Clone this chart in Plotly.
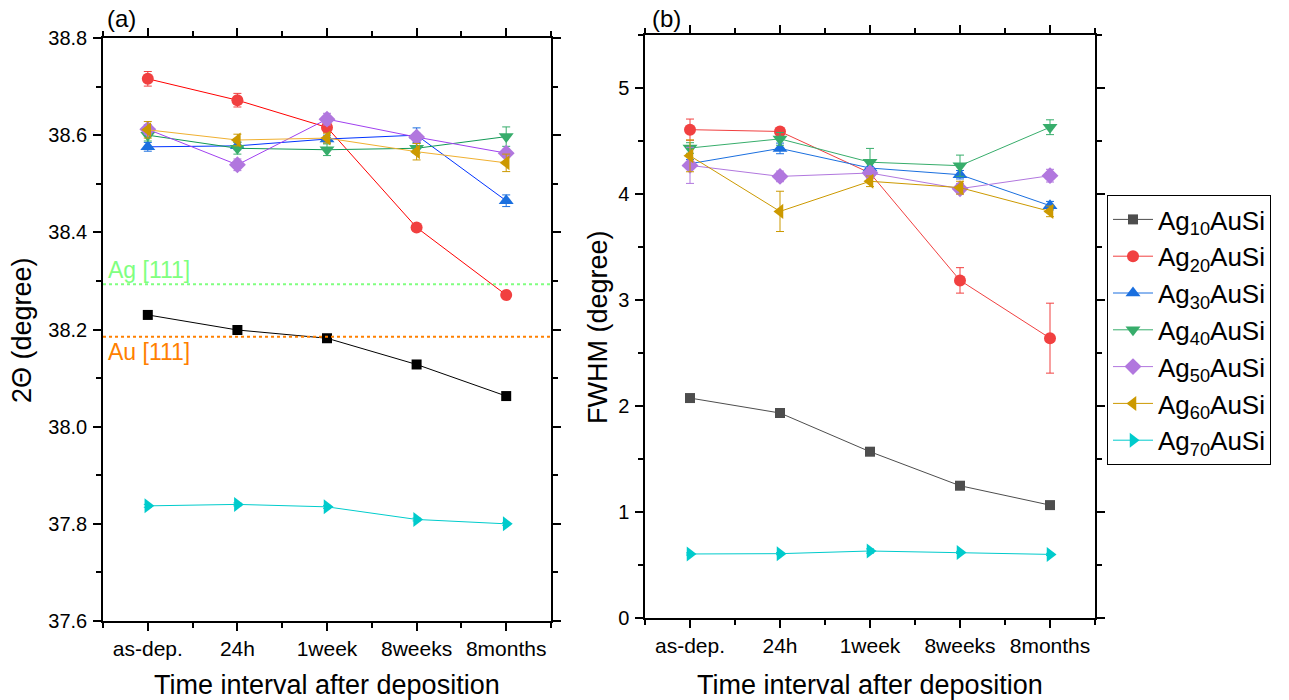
import plotly.graph_objects as go

categories = ["as-dep.", "24h", "1week", "8weeks", "8months"]
series_names = ["Ag<sub>10</sub>AuSi", "Ag<sub>20</sub>AuSi", "Ag<sub>30</sub>AuSi", "Ag<sub>40</sub>AuSi",
                "Ag<sub>50</sub>AuSi", "Ag<sub>60</sub>AuSi", "Ag<sub>70</sub>AuSi"]

# Panel (a): 2Theta (degree)
theta_ag10 = [38.230, 38.199, 38.182, 38.128, 38.063]
theta_ag20 = [38.716, 38.672, 38.616, 38.410, 38.271]
theta_ag30 = [38.576, 38.578, 38.592, 38.600, 38.465]
theta_ag40 = [38.600, 38.573, 38.570, 38.573, 38.597]
theta_ag50 = [38.612, 38.539, 38.633, 38.596, 38.563]
theta_ag60 = [38.611, 38.590, 38.594, 38.566, 38.543]
theta_ag70 = [37.837, 37.840, 37.835, 37.809, 37.800]

theta_err_ag10 = [0.003, 0.003, 0.003, 0.003, 0.003]
theta_err_ag20 = [0.015, 0.014, 0.010, 0.006, 0.006]
theta_err_ag30 = [0.009, 0.008, 0.008, 0.015, 0.012]
theta_err_ag40 = [0.012, 0.012, 0.012, 0.010, 0.020]
theta_err_ag50 = [0.010, 0.012, 0.012, 0.008, 0.008]
theta_err_ag60 = [0.017, 0.012, 0.010, 0.017, 0.018]
theta_err_ag70 = [0.003, 0.003, 0.003, 0.003, 0.003]

ag111 = 38.293
au111 = 38.185

# Panel (b): FWHM (degree)
fwhm_ag10 = [2.075, 1.934, 1.569, 1.248, 1.065]
fwhm_ag20 = [4.607, 4.590, 4.198, 3.185, 2.640]
fwhm_ag30 = [4.286, 4.430, 4.245, 4.182, 3.890]
fwhm_ag40 = [4.434, 4.520, 4.300, 4.267, 4.630]
fwhm_ag50 = [4.270, 4.166, 4.198, 4.050, 4.173]
fwhm_ag60 = [4.360, 3.836, 4.120, 4.060, 3.836]
fwhm_ag70 = [0.604, 0.607, 0.632, 0.619, 0.600]

fwhm_err_ag10 = [0.01, 0.01, 0.01, 0.01, 0.01]
fwhm_err_ag20 = [0.10, 0.03, 0.04, 0.12, 0.33]
fwhm_err_ag30 = [0.04, 0.05, 0.05, 0.04, 0.04]
fwhm_err_ag40 = [0.05, 0.06, 0.13, 0.10, 0.07]
fwhm_err_ag50 = [0.17, 0.05, 0.05, 0.05, 0.06]
fwhm_err_ag60 = [0.15, 0.19, 0.05, 0.06, 0.05]
fwhm_err_ag70 = [0.01, 0.01, 0.02, 0.01, 0.01]

colors = ["#4d4d4d", "#F14040", "#1A6FDF", "#37AD6B", "#B177DE", "#CC9900", "#00CBCC"]
colors_a = ["#000000", "#F14040", "#1A6FDF", "#37AD6B", "#B177DE", "#CC9900", "#00CBCC"]
line_a = ["#000000", "#FF0000", "#0033FF", "#119955", "#A040F0", "#F0B030", "#00CCCC"]
symbols = ["square", "circle", "triangle-up", "triangle-down", "diamond", "triangle-left", "triangle-right"]
sizes = [10, 12, 13, 13, 13, 13, 13]

theta_all = [theta_ag10, theta_ag20, theta_ag30, theta_ag40, theta_ag50, theta_ag60, theta_ag70]
theta_err = [theta_err_ag10, theta_err_ag20, theta_err_ag30, theta_err_ag40, theta_err_ag50, theta_err_ag60, theta_err_ag70]
fwhm_all = [fwhm_ag10, fwhm_ag20, fwhm_ag30, fwhm_ag40, fwhm_ag50, fwhm_ag60, fwhm_ag70]
fwhm_err = [fwhm_err_ag10, fwhm_err_ag20, fwhm_err_ag30, fwhm_err_ag40, fwhm_err_ag50, fwhm_err_ag60, fwhm_err_ag70]

xpos = list(range(len(categories)))

fig = go.Figure()
FONT = "Liberation Sans, Arial, sans-serif"

for i in range(7):
    fig.add_trace(go.Scatter(
        x=xpos, y=theta_all[i], mode="lines+markers", name=series_names[i],
        xaxis="x", yaxis="y", showlegend=False,
        line=dict(color=line_a[i], width=1),
        marker=dict(symbol=symbols[i], size=sizes[i], color=colors_a[i]),
        error_y=dict(type="data", array=theta_err[i], color=colors_a[i], thickness=1, width=4),
    ))

for i in range(7):
    fig.add_trace(go.Scatter(
        x=xpos, y=fwhm_all[i], mode="lines+markers", name=series_names[i],
        xaxis="x2", yaxis="y2", showlegend=True,
        line=dict(color=colors[i], width=1),
        marker=dict(symbol=symbols[i], size=sizes[i], color=colors[i]),
        error_y=dict(type="data", array=fwhm_err[i], color=colors[i], thickness=1, width=4),
    ))

W, H = 1289, 700
def px_x(p): return p / W
def px_y(p): return 1 - p / H

axis_common = dict(
    showline=True, linecolor="black", linewidth=1.5, mirror="allticks",
    ticks="outside", ticklen=8, tickwidth=1.5, tickcolor="black",
    showgrid=False, zeroline=False,
)
minor_common = dict(ticks="outside", ticklen=5, tickwidth=1.5, tickcolor="black")
xtickfont = dict(family=FONT, size=21, color="black")
ytickfont = dict(family=FONT, size=20, color="black")

fig.update_layout(
    width=W, height=H,
    margin=dict(l=0, r=0, t=0, b=0, autoexpand=False),
    plot_bgcolor="white", paper_bgcolor="white",
    font=dict(family=FONT, color="black"),
    xaxis=dict(domain=[px_x(103), px_x(551)], range=[-0.5, 4.5], anchor="y",
               tickvals=xpos, ticktext=categories, tickfont=xtickfont, ticklabelstandoff=0,
               minor=dict(dtick=0.5, tick0=0.5, **minor_common),
               **axis_common),
    yaxis=dict(domain=[px_y(621), px_y(38)], range=[37.6, 38.8], anchor="x",
               dtick=0.2, tickformat=".1f", tickfont=ytickfont, ticklabelstandoff=2,
               minor=dict(dtick=0.1, **minor_common),
               **axis_common),
    xaxis2=dict(domain=[px_x(645), px_x(1095)], range=[-0.5, 4.5], anchor="y2",
                tickvals=xpos, ticktext=categories, tickfont=xtickfont, ticklabelstandoff=0,
                minor=dict(dtick=0.5, tick0=0.5, **minor_common),
                **axis_common),
    yaxis2=dict(domain=[px_y(618), px_y(35)], range=[0, 5.5], anchor="x2",
                dtick=1, tickfont=ytickfont, ticklabelstandoff=2,
                minor=dict(dtick=0.5, **minor_common),
                **axis_common),
    legend=dict(x=px_x(1107), y=px_y(195), xanchor="left", yanchor="top",
                bordercolor="black", borderwidth=1, bgcolor="white",
                font=dict(family=FONT, size=26, color="black"), tracegroupgap=0,
                itemwidth=40),
)

fig.add_shape(type="line", xref="x domain", yref="y", x0=0, x1=1, y0=ag111, y1=ag111,
              line=dict(color="#80FF80", width=2, dash="dot"))
fig.add_shape(type="line", xref="x domain", yref="y", x0=0, x1=1, y0=au111, y1=au111,
              line=dict(color="#FF8000", width=2, dash="dot"))

anns = [
    dict(text="Ag [111]", x=px_x(106), y=px_y(270), xanchor="left", yanchor="middle",
         font=dict(size=23, color="#80FF80")),
    dict(text="Au [111]", x=px_x(106), y=px_y(352), xanchor="left", yanchor="middle",
         font=dict(size=23, color="#FF8000")),
    dict(text="(a)", x=px_x(105), y=px_y(19), xanchor="left", yanchor="middle",
         font=dict(size=24, color="black")),
    dict(text="(b)", x=px_x(650), y=px_y(19), xanchor="left", yanchor="middle",
         font=dict(size=24, color="black")),
    dict(text="Time interval after deposition", x=px_x(327), y=px_y(685), xanchor="center", yanchor="middle",
         font=dict(size=27, color="black")),
    dict(text="Time interval after deposition", x=px_x(870), y=px_y(685), xanchor="center", yanchor="middle",
         font=dict(size=27, color="black")),
    dict(text="2Θ (degree)", x=px_x(22), y=px_y(330), xanchor="center", yanchor="middle", textangle=-90,
         font=dict(size=27, color="black")),
    dict(text="FWHM (degree)", x=px_x(598), y=px_y(327), xanchor="center", yanchor="middle", textangle=-90,
         font=dict(size=27, color="black")),
]
for a in anns:
    a.update(xref="paper", yref="paper", showarrow=False)
    a["font"]["family"] = FONT
    fig.add_annotation(**a)

fig.write_html("out.html", config={"displayModeBar": False},
               post_script="document.body.style.margin='0px';")
